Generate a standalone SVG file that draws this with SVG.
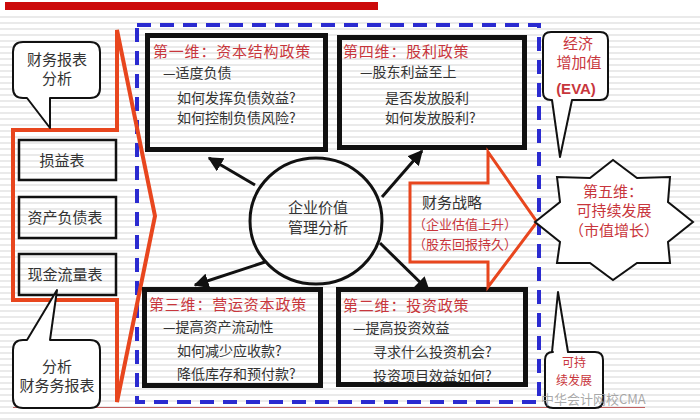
<svg xmlns="http://www.w3.org/2000/svg" width="700" height="420" viewBox="0 0 700 420">
<defs>
<pattern id="ruled" width="700" height="6" patternUnits="userSpaceOnUse">
<line x1="0" y1="5" x2="700" y2="5" stroke="#d6d6d6" stroke-width="1.2"/>
</pattern>
<marker id="ah" viewBox="0 0 10 10" refX="9" refY="5" markerWidth="5" markerHeight="5" orient="auto" markerUnits="strokeWidth">
<path d="M0,0 L10,5 L0,10 z" fill="#111"/>
</marker>
<style>
.cn{font-family:"Noto Sans CJK SC","Noto Sans",sans-serif;}
.t{font-size:14px;fill:#333;}
.ttl{font-size:15px;fill:#c8363c;letter-spacing:0.8px;}
.red{fill:#c8363c;}
.box{fill:none;stroke:#111;stroke-width:5;}
.sbox{fill:none;stroke:#111;stroke-width:2.5;}
.bub{fill:#fff;stroke:#111;stroke-width:2;stroke-linejoin:round;}
.conn{stroke:#111;stroke-width:3;fill:none;marker-end:url(#ah);}
.rarrow{fill:none;stroke:#e8461e;stroke-linejoin:miter;}
</style>
</defs>
<rect x="0" y="0" width="700" height="420" fill="#fff"/>
<rect x="0" y="12" width="700" height="408" fill="url(#ruled)"/>
<rect x="5" y="2" width="373" height="8" fill="#cc0a0a"/>
<line x1="13" y1="407.5" x2="645" y2="407.5" stroke="#c06060" stroke-width="1.2"/>

<rect x="137" y="25" width="402" height="377" fill="none" stroke="#2b2bd0" stroke-width="4" stroke-dasharray="14 9"/>

<g id="big-arrow">
<path class="rarrow" stroke-width="4" d="M13,130 L117,130 L117,30 L155,216 L117,402 L117,300 L13,300 Z"/>
</g>

<g id="bubble-fin-analysis">
<path class="bub" d="M23,42 L90,42 Q100,42 100,52 L100,88 Q100,98 90,98 L50,98 L50,128 L27,98 L23,98 Q13,98 13,88 L13,52 Q13,42 23,42 Z"/>
<text class="cn t" x="57" y="65" text-anchor="middle" style="font-size:15px">财务报表</text>
<text class="cn t" x="57" y="84" text-anchor="middle" style="font-size:15px">分析</text>
</g>

<g id="statement-income">
<rect class="sbox" x="19" y="140" width="97" height="40"/>
<text class="cn t" x="62" y="166" text-anchor="middle" style="font-size:15px">损益表</text>
</g>
<g id="statement-balance">
<rect class="sbox" x="19" y="197" width="97" height="41"/>
<text class="cn t" x="65" y="223" text-anchor="middle" style="font-size:15px">资产负债表</text>
</g>
<g id="statement-cash">
<rect class="sbox" x="19" y="254" width="97" height="41"/>
<text class="cn t" x="65" y="280" text-anchor="middle" style="font-size:15px">现金流量表</text>
</g>

<g id="bubble-analysis-fin">
<path class="bub" d="M23,340 L27,340 L57,290 L50,340 L90,340 Q100,340 100,350 L100,398 Q100,408 90,408 L23,408 Q13,408 13,398 L13,350 Q13,340 23,340 Z"/>
<text class="cn t" x="57" y="372" text-anchor="middle" style="font-size:15px">分析</text>
<text class="cn t" x="57" y="391" text-anchor="middle" style="font-size:15px">财务务报表</text>
</g>

<g id="connectors">
<line class="conn" x1="255" y1="185" x2="209" y2="158"/>
<line class="conn" x1="382" y1="197" x2="422" y2="151"/>
<line class="conn" x1="265" y1="262" x2="195" y2="285"/>
<line class="conn" x1="380" y1="243" x2="429" y2="291"/>
</g>

<g id="dim1">
<rect class="box" x="147.5" y="35.5" width="178" height="114"/>
<text class="cn ttl" x="153" y="57">第一维：资本结构政策</text>
<text class="cn t" x="163" y="78">—适度负债</text>
<text class="cn t" x="177" y="103">如何发挥负债效益?</text>
<text class="cn t" x="177" y="123">如何控制负债风险?</text>
</g>

<g id="dim4">
<rect class="box" x="339.5" y="37.5" width="185" height="110"/>
<text class="cn ttl" x="343" y="57">第四维：股利政策</text>
<text class="cn t" x="360" y="77">—股东利益至上</text>
<text class="cn t" x="385" y="103">是否发放股利</text>
<text class="cn t" x="385" y="123">如何发放股利?</text>
</g>

<g id="dim3">
<rect class="box" x="144.5" y="289.5" width="176" height="96"/>
<text class="cn ttl" x="149" y="310">第三维：营运资本政策</text>
<text class="cn t" x="163" y="332">—提高资产流动性</text>
<text class="cn t" x="177" y="356">如何减少应收款?</text>
<text class="cn t" x="177" y="379">降低库存和预付款?</text>
</g>

<g id="dim2">
<rect class="box" x="338.5" y="289.5" width="187" height="95"/>
<text class="cn ttl" x="343" y="311">第二维：投资政策</text>
<text class="cn t" x="353" y="333">—提高投资效益</text>
<text class="cn t" x="373" y="357">寻求什么投资机会?</text>
<text class="cn t" x="373" y="381">投资项目效益如何?</text>
</g>

<g id="center">
<ellipse cx="316" cy="221" rx="66" ry="63" fill="none" stroke="#111" stroke-width="3"/>
<text class="cn t" x="318" y="213" text-anchor="middle" style="font-size:15px">企业价值</text>
<text class="cn t" x="318" y="233" text-anchor="middle" style="font-size:15px">管理分析</text>
</g>

<g id="strategy">
<path class="rarrow" stroke-width="3" d="M410,183 L488,183 L488,152 L537,222 L488,287 L488,262 L410,262 Z"/>
<text class="cn t" x="422" y="208" style="font-size:15px">财务战略</text>
<text class="cn t red" x="413" y="229" style="font-size:13px">（企业估值上升）</text>
<text class="cn t red" x="413" y="249" style="font-size:13px">（股东回报持久）</text>
</g>

<g id="dim5">
<path d="M535,222 L560,202 L557,177 L590,178 L613,160 L637,178 L670,177 L668,202 L693,222 L668,242 L670,263 L637,263 L613,280 L590,263 L557,263 L560,242 Z" fill="#fff" stroke="#111" stroke-width="2"/>
<text class="cn t red" x="613" y="197" text-anchor="middle" style="font-size:15px">第五维：</text>
<text class="cn t red" x="614" y="216" text-anchor="middle" style="font-size:15px">可持续发展</text>
<text class="cn t red" x="614" y="236" text-anchor="middle" style="font-size:15px">（市值增长）</text>
</g>

<g id="bubble-eva">
<path class="bub" d="M551,32 L600,32 Q608,32 608,40 L608,92 Q608,100 600,100 L572,100 L560,157 L552,100 L551,100 Q543,100 543,92 L543,40 Q543,32 551,32 Z"/>
<text class="cn t red" x="578" y="49" text-anchor="middle" style="font-size:15px">经济</text>
<text class="cn t red" x="579" y="68" text-anchor="middle" style="font-size:15px">增加值</text>
<text x="576" y="94" text-anchor="middle" font-family="Liberation Sans, Arial, sans-serif" font-size="15" font-weight="bold" fill="#c8363c">(EVA)</text>
</g>

<g id="bubble-sustain">
<path class="bub" d="M553,352 L552,352 L558,292 L568,352 L595,352 Q603,352 603,360 L603,400 Q603,408 595,408 L553,408 Q545,408 545,400 L545,360 Q545,352 553,352 Z"/>
<text class="cn t red" x="574" y="367" text-anchor="middle" style="font-size:12px">可持</text>
<text class="cn t red" x="574" y="385" text-anchor="middle" style="font-size:12px">续发展</text>
</g>

<text class="cn" x="541" y="404" fill="#9a9a9a" fill-opacity="0.85" style="font-size:13px">中华会计网校CMA</text>
</svg>
